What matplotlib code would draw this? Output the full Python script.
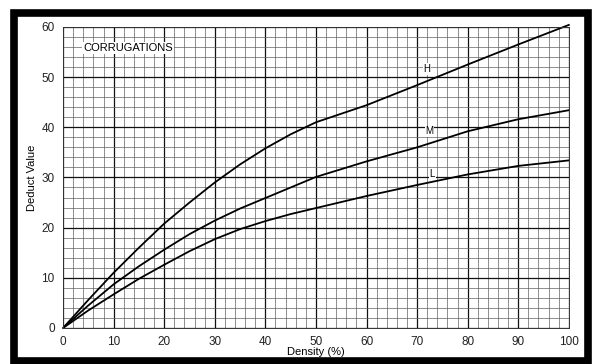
import numpy as np
import matplotlib
matplotlib.use("Agg")
import matplotlib.pyplot as plt
from matplotlib.patches import Rectangle

plt.rcParams['font.family'] = ['Liberation Sans', 'DejaVu Sans']

# density (%) and deduct values
density = [0, 5, 10, 15, 20, 25, 30, 35, 40, 45, 50, 60, 70, 80, 90, 100]
high = [0, 5.6, 11.0, 16.0, 20.8, 25.0, 29.0, 32.6, 35.8, 38.6, 41.0, 44.4, 48.4, 52.5, 56.5, 60.4]
medium = [0, 4.5, 8.7, 12.3, 15.6, 18.7, 21.4, 23.8, 25.9, 28.0, 30.1, 33.2, 36.0, 39.2, 41.6, 43.4]
low = [0, 3.5, 6.7, 9.8, 12.6, 15.3, 17.7, 19.7, 21.3, 22.7, 23.9, 26.3, 28.5, 30.6, 32.3, 33.4]

fig = plt.figure(figsize=(5.95, 3.64), dpi=100)
ax = fig.add_axes([0.106, 0.099, 0.850, 0.827])

# graph paper grid
ax.set_xticks(np.arange(0, 101, 10))
ax.set_yticks(np.arange(0, 61, 10))
ax.set_xticks(np.arange(0, 101, 2), minor=True)
ax.set_yticks(np.arange(0, 61, 2), minor=True)
ax.grid(which="minor", color="#606060", linewidth=0.5)
ax.grid(which="major", color="#111111", linewidth=0.9)
ax.set_axisbelow(True)
ax.tick_params(which="both", length=0, labelsize=8.5, pad=6, colors="#222222")
for s in ax.spines.values():
    s.set_linewidth(0.7)
    s.set_color("#333333")

ax.plot(density, high, color="black", lw=1.3, clip_on=False)
ax.plot(density, medium, color="black", lw=1.3)
ax.plot(density, low, color="black", lw=1.3)

ax.text(72, 51.6, "H", fontsize=7, ha="center", va="center",
        bbox=dict(facecolor="white", edgecolor="none", pad=0.5))
ax.text(72.5, 39.2, "M", fontsize=7, ha="center", va="center",
        bbox=dict(facecolor="white", edgecolor="none", pad=0.5))
ax.text(73, 30.6, "L", fontsize=7, ha="center", va="center",
        bbox=dict(facecolor="white", edgecolor="none", pad=0.5))
ax.text(4, 55.8, "CORRUGATIONS", fontsize=8, ha="left", va="center",
        bbox=dict(facecolor="white", edgecolor="none", pad=1))

ax.set_xlim(0, 100)
ax.set_ylim(0, 60)
ax.set_xlabel("Density (%)", fontsize=8, labelpad=-1)
ax.set_ylabel("Deduct Value", fontsize=8, labelpad=3)

# thick black frame around the figure
fig.patches.append(Rectangle((0.024, 0.007), 0.965, 0.957, transform=fig.transFigure,
                             fill=False, edgecolor="black", linewidth=5.5))

fig.savefig("out.png", dpi=100)
